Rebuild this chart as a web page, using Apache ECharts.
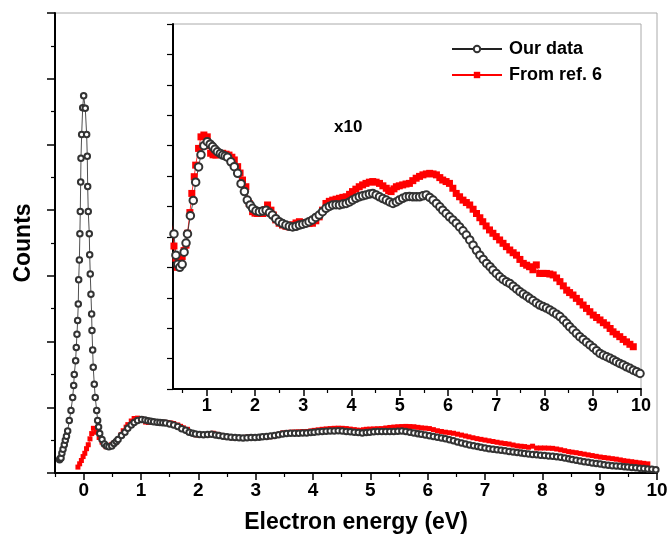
<!DOCTYPE html>
<html>
<head>
<meta charset="utf-8">
<script src="https://cdn.jsdelivr.net/npm/echarts@6/dist/echarts.min.js"></script>
<style>
  html, body { margin: 0; padding: 0; background: #fff; }
  #chart { width: 671px; height: 536px; }
</style>
</head>
<body>
<div id="chart"></div>
<script>
// counts in units of the inset scale (main axis shows them /10)
const ourEnergy = [
  -0.42, -0.41, -0.395, -0.38, -0.36, -0.338, -0.32, -0.30, -0.279, -0.251, -0.221, -0.192, -0.174, -0.164, -0.14,
  -0.129, -0.117, -0.105, -0.094, -0.087, -0.075, -0.066, -0.059, -0.052, -0.047, -0.035, -0.017, 0,
  0.028, 0.052, 0.063, 0.07, 0.08, 0.098, 0.105, 0.115, 0.127, 0.139, 0.145, 0.157, 0.167, 0.185, 0.202,
  0.227, 0.244, 0.26, 0.28, 0.32, 0.36, 0.40, 0.44, 0.49, 0.53, 0.57, 0.60, 0.66, 0.72, 0.77, 0.83, 0.88,
  0.94, 1.01, 1.07, 1.12, 1.17, 1.22, 1.28, 1.33, 1.38, 1.43, 1.50, 1.57, 1.64, 1.71, 1.78, 1.84, 1.90,
  1.95, 2.02, 2.09, 2.16, 2.23, 2.30, 2.36, 2.43, 2.50, 2.57, 2.64, 2.71, 2.78, 2.85, 2.92, 2.99, 3.06,
  3.12, 3.19, 3.26, 3.33, 3.40, 3.47, 3.54, 3.61, 3.68, 3.75, 3.82, 3.89, 3.96, 4.02, 4.09, 4.16, 4.23,
  4.30, 4.37, 4.44, 4.51, 4.58, 4.65, 4.72, 4.79, 4.86, 4.93, 4.99, 5.06, 5.13, 5.20, 5.27, 5.34, 5.41,
  5.48, 5.55, 5.62, 5.69, 5.76, 5.83, 5.89, 5.96, 6.03, 6.10, 6.17, 6.24, 6.31, 6.38, 6.45, 6.52, 6.59,
  6.66, 6.73, 6.80, 6.87, 6.93, 7.00, 7.07, 7.14, 7.21, 7.28, 7.35, 7.42, 7.49, 7.56, 7.63, 7.69, 7.76,
  7.83, 7.90, 7.97, 8.04, 8.11, 8.18, 8.25, 8.32, 8.39, 8.46, 8.52, 8.59, 8.66, 8.73, 8.80, 8.87, 8.94,
  9.01, 9.08, 9.15, 9.22, 9.29, 9.36, 9.43, 9.49, 9.56, 9.63, 9.70, 9.77, 9.84, 9.91, 9.98
]
const ourCounts = [
  2.0, 2.2, 2.3, 3.0, 3.6, 4.3, 5.0, 5.6, 6.4, 8.0, 9.5, 11.5, 13.3, 15.0, 17.1,
  19.1, 21.1, 23.2, 25.7, 29.4, 32.4, 36.4, 39.8, 44.3, 47.9, 51.5, 55.6, 57.4,
  55.5, 51.5, 48.2, 43.6, 39.8, 36.4, 33.2, 30.3, 27.2, 24.2, 21.7, 18.7, 16.1, 13.5, 11.5,
  9.5, 8.0, 7.0, 6.0, 5.1, 4.4, 4.1, 4.0, 4.1, 4.5, 4.8, 5.1, 5.7, 6.2, 6.8, 7.3, 7.7,
  8.0, 8.13, 8.05, 7.97, 7.88, 7.80, 7.74, 7.69, 7.66, 7.62, 7.47, 7.31, 7.09, 6.75, 6.49, 6.21, 6.05,
  5.94, 5.86, 5.83, 5.85, 5.88, 5.80, 5.72, 5.60, 5.50, 5.44, 5.39, 5.35, 5.33, 5.35, 5.39, 5.42, 5.45,
  5.50, 5.56, 5.64, 5.72, 5.83, 5.94, 6.00, 6.05, 6.06, 6.05, 6.08, 6.10, 6.15, 6.21, 6.27, 6.32, 6.35,
  6.38, 6.41, 6.43, 6.38, 6.32, 6.26, 6.21, 6.15, 6.10, 6.15, 6.21, 6.27, 6.32, 6.33, 6.32, 6.32, 6.32,
  6.35, 6.38, 6.30, 6.21, 6.10, 5.99, 5.88, 5.77, 5.66, 5.56, 5.45, 5.33, 5.20, 5.06, 4.90, 4.73, 4.56,
  4.40, 4.26, 4.13, 4.02, 3.91, 3.80, 3.69, 3.60, 3.53, 3.47, 3.38, 3.29, 3.20, 3.12, 3.05, 2.98, 2.91,
  2.83, 2.76, 2.71, 2.66, 2.60, 2.53, 2.46, 2.38, 2.27, 2.16, 2.05, 1.94, 1.83, 1.72, 1.63, 1.54, 1.45,
  1.36, 1.26, 1.17, 1.11, 1.06, 1.01, 0.95, 0.90, 0.84, 0.79, 0.73, 0.68, 0.62, 0.57, 0.51
]

const refEnergy = [
  -0.10, -0.07, -0.04, -0.01, 0.02, 0.05, 0.08, 0.11, 0.14, 0.17, 0.22, 0.27, 0.32, 0.36, 0.39,
  0.44, 0.49, 0.53, 0.57, 0.60, 0.65, 0.69, 0.74, 0.77, 0.83, 0.88, 0.94, 1.01, 1.05, 1.08,
  1.13, 1.19, 1.26, 1.33, 1.40, 1.46, 1.52, 1.57, 1.64, 1.69, 1.74, 1.81, 1.88, 1.95, 2.00,
  2.05, 2.10, 2.16, 2.21, 2.26, 2.33, 2.38, 2.43, 2.50, 2.57, 2.64, 2.71, 2.78, 2.85, 2.92,
  2.99, 3.06, 3.12, 3.19, 3.26, 3.33, 3.40, 3.47, 3.54, 3.61, 3.68, 3.75, 3.82, 3.89, 3.96,
  4.02, 4.09, 4.16, 4.23, 4.30, 4.37, 4.44, 4.51, 4.58, 4.65, 4.72, 4.77, 4.82, 4.88, 4.93,
  4.99, 5.06, 5.13, 5.20, 5.27, 5.34, 5.41, 5.48, 5.55, 5.62, 5.69, 5.76, 5.83, 5.89, 5.96,
  6.03, 6.10, 6.17, 6.24, 6.31, 6.38, 6.45, 6.52, 6.59, 6.66, 6.72, 6.79, 6.86, 6.93, 7.00,
  7.07, 7.14, 7.21, 7.28, 7.35, 7.42, 7.49, 7.56, 7.63, 7.69, 7.76, 7.83, 7.90, 7.97, 8.04,
  8.11, 8.18, 8.25, 8.32, 8.39, 8.46, 8.52, 8.59, 8.66, 8.73, 8.80, 8.87, 8.94, 9.01, 9.08,
  9.15, 9.22, 9.29, 9.36, 9.42, 9.49, 9.56, 9.63, 9.70, 9.77, 9.84
]
const refCounts = [
  0.9, 1.4, 1.9, 2.5, 3.0, 3.7, 4.3, 5.2, 6.0, 6.8, 6.2, 5.4, 4.7, 4.3, 4.0,
  4.15, 4.35, 4.55, 4.73, 5.12, 5.8, 6.43, 6.98, 7.36, 7.91, 8.29, 8.35, 8.29, 8.0, 7.75,
  7.70, 7.69, 7.72, 7.75, 7.72, 7.69, 7.62, 7.53, 7.31, 7.10, 6.87, 6.65, 6.10, 5.83, 5.78,
  5.77, 5.77, 5.77, 5.90, 6.05, 5.88, 5.72, 5.56, 5.45, 5.39, 5.35, 5.33, 5.40, 5.46, 5.50,
  5.47, 5.45, 5.44, 5.45, 5.53, 5.66, 5.88, 6.10, 6.17, 6.21, 6.24, 6.27, 6.30, 6.32, 6.40,
  6.49, 6.57, 6.65, 6.71, 6.76, 6.80, 6.82, 6.80, 6.76, 6.68, 6.60, 6.52, 6.49, 6.58, 6.65,
  6.68, 6.71, 6.74, 6.76, 6.85, 6.93, 6.99, 7.04, 7.07, 7.09, 7.07, 7.04, 6.95, 6.87, 6.82,
  6.76, 6.60, 6.43, 6.32, 6.21, 6.13, 6.05, 5.91, 5.77, 5.63, 5.50, 5.36, 5.23, 5.12, 5.01,
  4.90, 4.79, 4.68, 4.57, 4.48, 4.40, 4.26, 4.13, 4.07, 4.02, 3.92, 4.08, 3.80, 3.80, 3.80,
  3.78, 3.75, 3.65, 3.53, 3.39, 3.25, 3.17, 3.09, 2.98, 2.87, 2.76, 2.65, 2.54, 2.43, 2.35,
  2.27, 2.18, 2.10, 1.99, 1.88, 1.80, 1.72, 1.63, 1.55, 1.47, 1.39
]

const mainTicks = [0, 1, 2, 3, 4, 5, 6, 7, 8, 9, 10]
const mainMinor = [-0.5, 0.5, 1.5, 2.5, 3.5, 4.5, 5.5, 6.5, 7.5, 8.5, 9.5]
const insetTicks = [1, 2, 3, 4, 5, 6, 7, 8, 9, 10]
const insetMinor = [0.5, 1.5, 2.5, 3.5, 4.5, 5.5, 6.5, 7.5, 8.5, 9.5]

const ourData = ourEnergy.map((e, i) => [e, ourCounts[i]])
const refData = refEnergy.map((e, i) => [e, refCounts[i]])

const FONT = "'Liberation Sans', Arial, sans-serif"
const chart = echarts.init(document.getElementById('chart'))

function majorAxis(grid, min, max, ticks, fontSize, margin, extra) {
  return Object.assign({
    type: 'value', gridIndex: grid, min, max, position: 'bottom',
    axisLine: { show: true, onZero: false, lineStyle: { color: '#000', width: 2 } },
    axisTick: { show: true, customValues: ticks, length: 7, lineStyle: { color: '#000', width: 1.5 } },
    axisLabel: { show: true, customValues: ticks, color: '#000', fontSize, fontWeight: 'bold', fontFamily: FONT, margin },
    splitLine: { show: false },
  }, extra || {})
}
function minorAxis(grid, min, max, ticks) {
  return {
    type: 'value', gridIndex: grid, min, max, position: 'bottom',
    axisLine: { show: false, onZero: false },
    axisTick: { show: true, customValues: ticks, length: 4, lineStyle: { color: '#000', width: 1.2 } },
    axisLabel: { show: false },
    splitLine: { show: false },
  }
}

chart.setOption({
  animation: false,
  backgroundColor: '#fff',
  grid: [
    { left: 55, right: 14, top: 13, bottom: 63, outerBoundsMode: 'none', show: true, borderColor: '#aaa', borderWidth: 1, backgroundColor: '#fff' },
    { left: 173, right: 30, top: 24, bottom: 147, outerBoundsMode: 'none', show: true, borderColor: '#aaa', borderWidth: 1, backgroundColor: '#fff' },
  ],
  legend: {
    left: 446, top: 35, orient: 'vertical',
    itemWidth: 50, itemHeight: 8, itemGap: 8,
    data: ['Our data', 'From ref. 6'],
    textStyle: { color: '#000', fontSize: 18, fontWeight: 'bold', fontFamily: FONT, padding: [0, 0, 0, 2] },
  },
  graphic: [{
    type: 'text', left: 334, top: 119,
    style: { text: 'x10', fill: '#000', font: "bold 17px 'Liberation Sans', Arial, sans-serif" },
  }],
  xAxis: [
    majorAxis(0, -0.5, 10, mainTicks, 19, 8, {
      name: 'Electron energy (eV)', nameLocation: 'middle', nameGap: 38,
      nameTextStyle: { color: '#000', fontSize: 23, fontWeight: 'bold', fontFamily: FONT },
    }),
    minorAxis(0, -0.5, 10, mainMinor),
    majorAxis(1, 0.3, 10, insetTicks, 18, 8),
    minorAxis(1, 0.3, 10, insetMinor),
  ],
  yAxis: [
    {
      type: 'value', gridIndex: 0, min: 0, max: 70, interval: 10,
      name: 'Counts', nameLocation: 'middle', nameGap: 20,
      nameTextStyle: { color: '#000', fontSize: 23, fontWeight: 'bold', fontFamily: FONT },
      axisLine: { show: true, onZero: false, lineStyle: { color: '#000', width: 2 } },
      axisTick: { show: true, length: 8, lineStyle: { color: '#000', width: 1.5 } },
      minorTick: { show: true, splitNumber: 2, length: 4, lineStyle: { color: '#000', width: 1.2 } },
      axisLabel: { show: false },
      splitLine: { show: false },
    },
    {
      type: 'value', gridIndex: 1, min: 0, max: 12, interval: 1,
      axisLine: { show: true, onZero: false, lineStyle: { color: '#000', width: 2 } },
      axisTick: { show: true, length: 6, lineStyle: { color: '#000', width: 1.2 } },
      axisLabel: { show: false },
      splitLine: { show: false },
    },
  ],
  series: [
    {
      name: 'From ref. 6', type: 'line', xAxisIndex: 0, yAxisIndex: 0, data: refData,
      symbol: 'rect', symbolSize: 5, clip: true,
      itemStyle: { color: '#f00' }, lineStyle: { color: '#f00', width: 0.8 },
    },
    {
      name: 'Our data', type: 'line', xAxisIndex: 0, yAxisIndex: 0, data: ourData,
      symbol: 'emptyCircle', symbolSize: 5.5, clip: true,
      itemStyle: { color: '#333', borderWidth: 0.8 }, lineStyle: { color: '#222', width: 0.8 },
    },
    {
      name: 'From ref. 6', type: 'line', xAxisIndex: 2, yAxisIndex: 1, data: refData,
      symbol: 'rect', symbolSize: 7, clip: true,
      itemStyle: { color: '#f00' }, lineStyle: { color: '#f00', width: 0.8 },
    },
    {
      name: 'Our data', type: 'line', xAxisIndex: 2, yAxisIndex: 1, data: ourData,
      symbol: 'emptyCircle', symbolSize: 7.5, clip: true,
      itemStyle: { color: '#333', borderWidth: 0.8 }, lineStyle: { color: '#222', width: 0.8 },
    },
  ],
})
</script>
</body>
</html>
